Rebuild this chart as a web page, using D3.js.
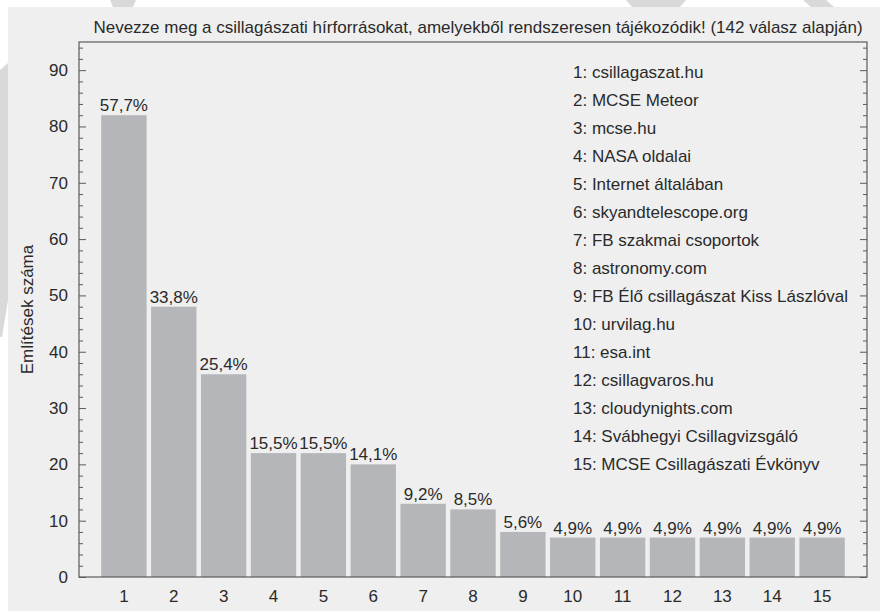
<!DOCTYPE html>
<html>
<head>
<meta charset="utf-8">
<script src="https://cdn.jsdelivr.net/npm/d3@7"></script>
<style>
  body { margin: 0; background: #ffffff; }
  svg { display: block; font-family: "Liberation Sans", Arial, sans-serif; }
</style>
</head>
<body>
<div id="chart"></div>
<script>
// data
var categories = ["1","2","3","4","5","6","7","8","9","10","11","12","13","14","15"];
var counts = [82, 48, 36, 22, 22, 20, 13, 12, 8, 7, 7, 7, 7, 7, 7];
var pctLabels = ["57,7%","33,8%","25,4%","15,5%","15,5%","14,1%","9,2%","8,5%","5,6%","4,9%","4,9%","4,9%","4,9%","4,9%","4,9%"];
var sources = ["csillagaszat.hu", "MCSE Meteor", "mcse.hu", "NASA oldalai", "Internet általában",
  "skyandtelescope.org", "FB szakmai csoportok", "astronomy.com", "FB Élő csillagászat Kiss Lászlóval",
  "urvilag.hu", "esa.int", "csillagvaros.hu", "cloudynights.com", "Svábhegyi Csillagvizsgáló",
  "MCSE Csillagászati Évkönyv"];
var yMajor = [0, 10, 20, 30, 40, 50, 60, 70, 80, 90];
var yMinor = d3.range(0, 96, 2).filter(function(v) { return v % 10 !== 0; });
var title = "Nevezze meg a csillagászati hírforrásokat, amelyekből rendszeresen tájékozódik! (142 válasz alapján)";
var yTitle = "Említések száma";

var width = 880, height = 611;
var margin = { top: 42, right: 13, bottom: 34, left: 79 };
var chartWidth = width - margin.left - margin.right;
var chartHeight = height - margin.top - margin.bottom;
var textColor = "#2a2a2a";
var fontSize = "17px";

var svg = d3.select("#chart").append("svg")
  .attr("width", width)
  .attr("height", height);

// watermark bits peeking out around the panel
var wm = svg.append("g").attr("fill", "#d9d9d9");
wm.append("path").attr("d", "M110,0 L136,0 L133,7 L113,7 Z");
wm.append("path").attr("d", "M626,0 L686,0 L680,7 L632,7 Z");
wm.append("path").attr("d", "M803,0 L826,0 L834,7 L811,7 Z");
wm.append("path").attr("d", "M0,70 L8,63 L8,300 L2,337 L0,337 Z");

// panel
svg.append("rect")
  .attr("x", 8).attr("y", 7)
  .attr("width", width - 8).attr("height", height - 7)
  .attr("fill", "#efefef");

var chartGroup = svg.append("g")
  .attr("transform", `translate(${margin.left}, ${margin.top})`);

var xScale = d3.scaleBand()
  .domain(categories)
  .range([0, chartWidth])
  .paddingInner(0.09)
  .paddingOuter(0.445);

var yScale = d3.scaleLinear()
  .domain([0, 95])
  .range([chartHeight, 0]);

// bars
chartGroup.selectAll("rect.bar")
  .data(counts)
  .enter()
  .append("rect")
    .attr("class", "bar")
    .attr("x", function(d, i) { return xScale(categories[i]); })
    .attr("y", function(d) { return yScale(d); })
    .attr("width", xScale.bandwidth())
    .attr("height", function(d) { return chartHeight - yScale(d); })
    .attr("fill", "#b5b6b9");

// percent labels
chartGroup.selectAll("text.pct")
  .data(counts)
  .enter()
  .append("text")
    .attr("class", "pct")
    .attr("x", function(d, i) { return xScale(categories[i]) + xScale.bandwidth() / 2; })
    .attr("y", function(d) { return yScale(d) - 4; })
    .attr("text-anchor", "middle")
    .attr("font-size", fontSize)
    .attr("fill", textColor)
    .text(function(d, i) { return pctLabels[i]; });

// left axis, ticks pointing inward
var leftAxis = chartGroup.append("g")
  .call(d3.axisLeft(yScale).tickValues(yMajor).tickSize(-7).tickPadding(11));
var leftMinor = chartGroup.append("g")
  .call(d3.axisLeft(yScale).tickValues(yMinor).tickSize(-4).tickFormat(""));

// right axis, no labels
var rightAxis = chartGroup.append("g")
  .attr("transform", `translate(${chartWidth}, 0)`)
  .call(d3.axisRight(yScale).tickValues(yMajor).tickSize(-7).tickFormat(""));
var rightMinor = chartGroup.append("g")
  .attr("transform", `translate(${chartWidth}, 0)`)
  .call(d3.axisRight(yScale).tickValues(yMinor).tickSize(-4).tickFormat(""));

var bottomAxis = chartGroup.append("g")
  .attr("transform", `translate(0, ${chartHeight})`)
  .call(d3.axisBottom(xScale).tickSize(0).tickPadding(13));

[leftAxis, leftMinor, rightAxis, rightMinor, bottomAxis].forEach(function(g) {
  g.select(".domain").remove();
  g.selectAll("line").attr("stroke", "#5a5a5a");
  g.selectAll("text")
    .attr("font-size", fontSize)
    .attr("font-family", "Liberation Sans, Arial, sans-serif")
    .attr("fill", textColor);
});

// frame
chartGroup.append("rect")
  .attr("width", chartWidth)
  .attr("height", chartHeight)
  .attr("fill", "none")
  .attr("stroke", "#5a5a5a")
  .attr("stroke-width", 1.2);

// legend list
chartGroup.selectAll("text.src")
  .data(sources)
  .enter()
  .append("text")
    .attr("class", "src")
    .attr("x", 573 - margin.left)
    .attr("y", function(d, i) { return 36 + i * 28; })
    .attr("font-size", fontSize)
    .attr("fill", textColor)
    .text(function(d, i) { return (i + 1) + ": " + d; });

// title
svg.append("text")
  .attr("x", 478)
  .attr("y", 33)
  .attr("text-anchor", "middle")
  .attr("font-size", fontSize)
  .attr("fill", textColor)
  .text(title);

// y axis title
svg.append("text")
  .attr("transform", `translate(33, ${margin.top + chartHeight / 2}) rotate(-90)`)
  .attr("text-anchor", "middle")
  .attr("font-size", fontSize)
  .attr("fill", textColor)
  .text(yTitle);
</script>
</body>
</html>
